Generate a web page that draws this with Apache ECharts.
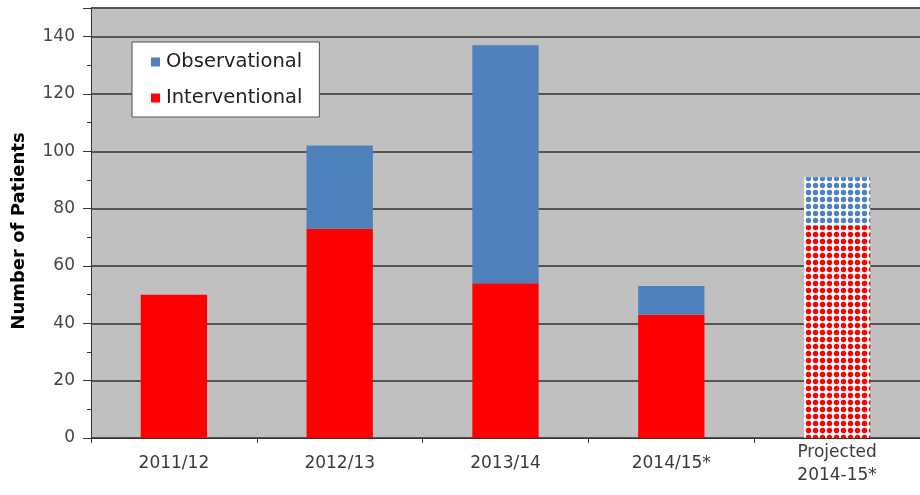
<!DOCTYPE html>
<html><head><meta charset="utf-8">
<script src="https://cdn.jsdelivr.net/npm/echarts@6/dist/echarts.min.js"></script>
<style>html,body{margin:0;padding:0;background:#fff}#c{width:920px;height:495px}</style>
</head><body><div id="c"></div>
<script>
var categories = ['2011/12', '2012/13', '2013/14', '2014/15*', 'Projected\n2014-15*'];
var interventional = [50, 73, 54, 43, 74];
var observational = [0, 29, 83, 10, 17];
var yTicks = { min: 0, max: 150, interval: 20 };
var projectedIndex = 4;

function dotPattern(color) {
  var cv = document.createElement('canvas');
  cv.width = 7; cv.height = 7;
  var ctx = cv.getContext('2d');
  ctx.fillStyle = '#ffffff';
  ctx.fillRect(0, 0, 7, 7);
  ctx.fillStyle = color;
  ctx.beginPath();
  ctx.arc(3.5, 3.5, 2.7, 0, Math.PI * 2);
  ctx.fill();
  return { image: cv, repeat: 'repeat' };
}
var RED = '#ff0000', BLUE = '#4f81bd';
function buildData(arr, color) {
  return arr.map(function (v, i) {
    if (i === projectedIndex) return { value: v, itemStyle: { color: dotPattern(color) } };
    return v;
  });
}
var FONT = 'DejaVu Sans, Arial, sans-serif';
var chart = echarts.init(document.getElementById('c'), null, { renderer: 'canvas' });
chart.setOption({
  animation: false,
  backgroundColor: '#ffffff',
  textStyle: { fontFamily: FONT },
  grid: { left: 91, right: 0, top: 8, bottom: 57, show: true, backgroundColor: '#c0c0c0', borderWidth: 0,
          containLabel: false, outerBoundsMode: 'none' },
  legend: {
    orient: 'vertical', left: 132, top: 42,
    data: ['Observational', 'Interventional'],
    icon: 'rect', itemWidth: 9, itemHeight: 9, itemGap: 16,
    padding: [10, 17, 9, 19],
    backgroundColor: '#ffffff', borderColor: '#505050', borderWidth: 1,
    textStyle: { fontSize: 19.5, color: '#222', fontFamily: FONT, padding: [0, 0, 0, 1] }
  },
  xAxis: {
    type: 'category', data: categories,
    axisLine: { lineStyle: { color: '#333', width: 1 } },
    axisTick: { show: true, length: 5, lineStyle: { color: '#333' } },
    axisLabel: { fontSize: 17, color: '#3a3a3a', margin: 26, lineHeight: 23, verticalAlign: 'middle', fontFamily: FONT }
  },
  yAxis: {
    type: 'value', min: yTicks.min, max: yTicks.max, interval: yTicks.interval,
    name: 'Number of Patients', nameLocation: 'middle', nameGap: 63,
    nameTextStyle: { fontSize: 18, fontWeight: 'bold', color: '#000', fontFamily: FONT, padding: [0, 16, 0, 0] },
    axisLine: { show: true, lineStyle: { color: '#333', width: 1 } },
    axisTick: { show: true, length: 8, lineStyle: { color: '#333' } },
    minorTick: { show: true, splitNumber: 2, length: 4, lineStyle: { color: '#333' } },
    axisLabel: { fontSize: 17, color: '#444', margin: 16, showMaxLabel: false, fontFamily: FONT },
    splitLine: { show: true, lineStyle: { color: '#555555', width: 2 } }
  },
  series: [
    { name: 'Interventional', type: 'bar', stack: 'a', barWidth: '40%',
      itemStyle: { color: RED }, data: buildData(interventional, RED) },
    { name: 'Observational', type: 'bar', stack: 'a', barWidth: '40%',
      itemStyle: { color: BLUE }, data: buildData(observational, BLUE) }
  ]
});
</script></body></html>
